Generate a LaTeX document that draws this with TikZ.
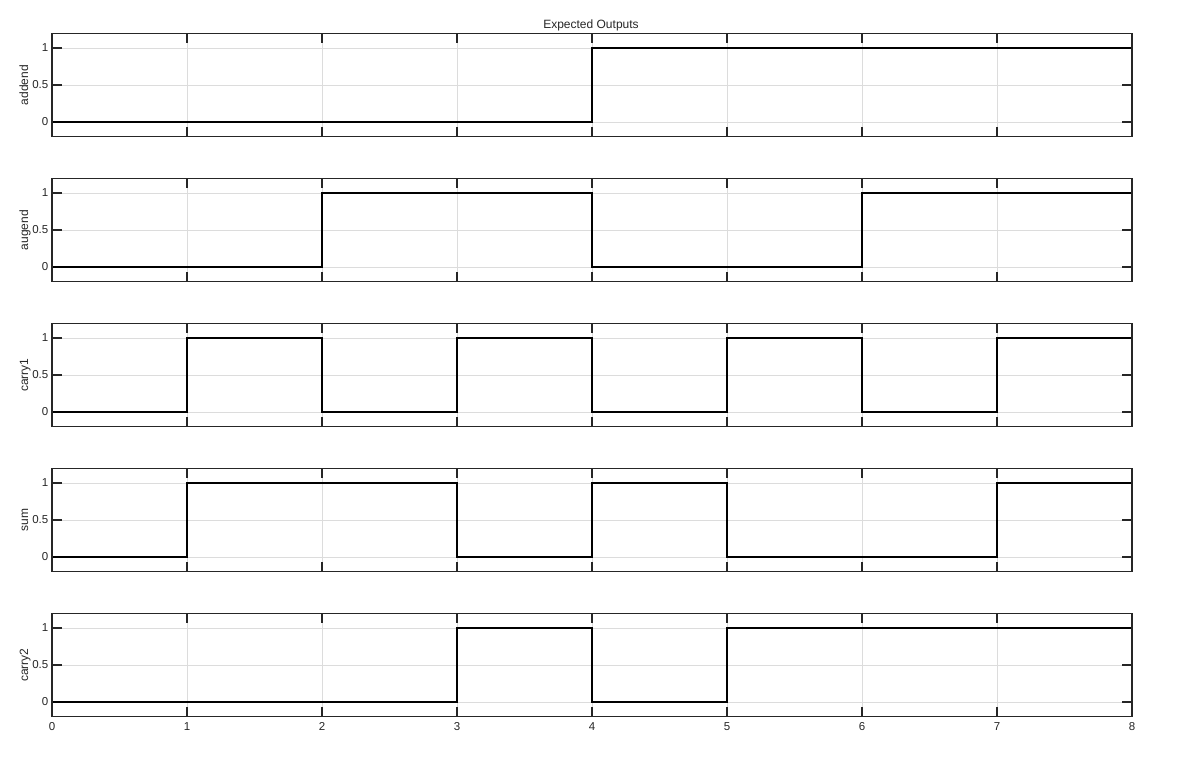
\documentclass[tikz,border=0pt]{standalone}
\usepackage{fontspec}
\setmainfont{Liberation Sans}
\definecolor{gridc}{HTML}{DCDCDC}
\definecolor{framec}{HTML}{262626}
\begin{document}
\begin{tikzpicture}[x=1pt,y=1pt,
  gridline/.style={gridc,line width=1pt},
  frameline/.style={framec,line width=1.3pt},
  tickline/.style={framec,line width=1.3pt},
  signal/.style={black,line width=2pt,line join=miter},
  ticklab/.style={font=\fontsize{11.5}{11.5}\selectfont,text=framec,inner sep=0pt},
  ylab/.style={font=\fontsize{12}{12}\selectfont,text=framec,inner sep=0pt,rotate=90,anchor=base},
  titlelab/.style={font=\fontsize{12}{12}\selectfont,text=framec,inner sep=0pt,anchor=base}]
\useasboundingbox (0,0) rectangle (1181,-764);
\node[titlelab] (title) at (591,-28.5) {Expected Outputs};
\foreach \k/\lab/\sig in {
  0/addend/{(0,0) -- (4,0) -- (4,1) -- (8,1)},
  1/augend/{(0,0) -- (2,0) -- (2,1) -- (4,1) -- (4,0) -- (6,0) -- (6,1) -- (8,1)},
  2/carry1/{(0,0) -- (1,0) -- (1,1) -- (2,1) -- (2,0) -- (3,0) -- (3,1) -- (4,1) -- (4,0) -- (5,0) -- (5,1) -- (6,1) -- (6,0) -- (7,0) -- (7,1) -- (8,1)},
  3/sum/{(0,0) -- (1,0) -- (1,1) -- (3,1) -- (3,0) -- (4,0) -- (4,1) -- (5,1) -- (5,0) -- (7,0) -- (7,1) -- (8,1)},
  4/carry2/{(0,0) -- (3,0) -- (3,1) -- (4,1) -- (4,0) -- (5,0) -- (5,1) -- (8,1)}}{
  \begin{scope}[shift={(52,-122-145*\k)},x=135pt,y=74pt]
    % grid
    \foreach \t in {1,...,7}{\draw[gridline] (\t,-0.2) -- (\t,1.2);}
    \foreach \v in {0,0.5,1}{\draw[gridline] (0,\v) -- (8,\v);}
    % ticks
    \foreach \t in {1,...,7}{
      \draw[tickline] (\t,1.2) -- ++(0,-10pt);
      \draw[tickline] (\t,-0.2) -- ++(0,10pt);}
    \foreach \v in {0,0.5,1}{
      \draw[tickline] (0,\v) -- ++(10pt,0);
      \draw[tickline] (8,\v) -- ++(-10pt,0);
      \node[ticklab,anchor=east] (yt\k-\v) at ([xshift=-3.5pt]0,\v) {\v};}
    % signal
    \draw[signal] \sig;
    % frame
    \draw[frameline] (0,-0.2) rectangle (8,1.2);
    \node[ylab] (ylabel\k) at ([xshift=-24pt]0,0.5) {\lab};
  \end{scope}
}
\begin{scope}[shift={(52,-718)},x=135pt]
  \foreach \t in {0,...,8}{\node[ticklab,anchor=north] (xt\t) at ([yshift=-4.5pt]\t,0) {\t};}
\end{scope}
\end{tikzpicture}
\end{document}
